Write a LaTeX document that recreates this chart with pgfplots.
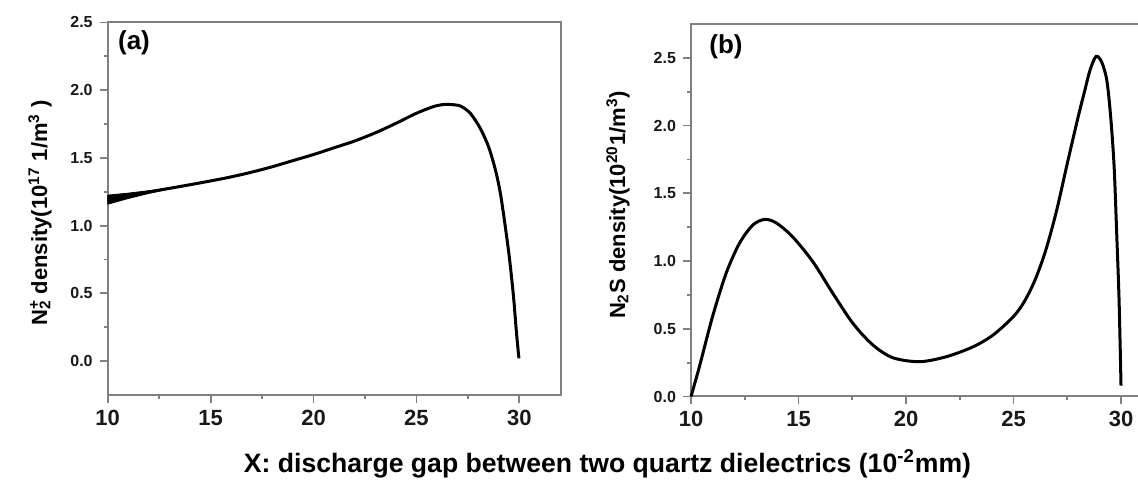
\documentclass[border=0pt]{standalone}
\usepackage{fontspec}
\setmainfont{Liberation Sans}
\usepackage{pgfplots}
\pgfplotsset{compat=1.18}
\definecolor{axgray}{HTML}{808080}
\pgfplotsset{
  myax/.style={
    scale only axis,
    anchor=south west,
    axis line style={axgray, line width=1pt},
    tick style={axgray, line width=0.9pt},
    major tick length=4pt, minor tick length=2pt,
    tick align=outside,
    tick pos=left,
    minor x tick num=1, minor y tick num=1,
    xmin=10, xmax=32,
    xtick={10,15,20,25,30},
    /pgf/number format/assume math mode=true,
    x tick label style={font=\bfseries\fontsize{11}{12}\selectfont, text=black!90},
    y tick label style={font=\bfseries\fontsize{8}{9}\selectfont, text=black!90,
      /pgf/number format/fixed, /pgf/number format/fixed zerofill, /pgf/number format/precision=1},
    clip=false,
  }
}
\begin{document}
\begin{tikzpicture}
\useasboundingbox (0,0) rectangle (569pt,240pt);
\clip (0,0) rectangle (569pt,240pt);
% panel (a)
\begin{axis}[myax, at={(53.85pt,42.55pt)}, width=226.4pt, height=186.2pt,
  ymin=-0.25, ymax=2.5, ytick={0,0.5,1,1.5,2,2.5}]
\addplot[fill=black, draw=black, line width=0.4pt] coordinates {
(10,1.225) (11,1.240) (12,1.258) (13,1.280) (14,1.306)
(13,1.272) (12,1.238) (11,1.200) (10,1.158)
} -- cycle;
\addplot[black, line width=1.5pt, smooth, tension=0.5] coordinates {
(10,1.195) (11,1.222) (12,1.248) (13,1.275) (14,1.302) (15,1.33) (16,1.36)
(17,1.395) (18,1.435) (19,1.48) (20,1.525) (21,1.575) (22,1.625) (23,1.685)
(24,1.755) (24.96,1.827) (25.77,1.876) (26.2,1.892) (26.58,1.895) (27.14,1.883)
(27.63,1.827) (28.11,1.716) (28.51,1.58) (28.84,1.41) (29.08,1.237) (29.32,0.99)
(29.53,0.745) (29.72,0.47) (29.86,0.21) (29.98,0.02)
};
\end{axis}
% panel (b)
\begin{axis}[myax, at={(345.5pt,41.75pt)}, width=236.5pt, height=186.25pt,
  ymin=0, ymax=2.75, ytick={0,0.5,1,1.5,2,2.5}]
\addplot[black, line width=1.5pt, smooth, tension=0.5] coordinates {
(10,0) (10.39,0.22) (11.0,0.589) (11.63,0.908) (12.25,1.13) (12.87,1.265)
(13.42,1.307) (13.96,1.282) (14.73,1.178) (15.67,0.994) (16.6,0.761)
(17.53,0.54) (18.46,0.38) (19.39,0.286) (20.64,0.257) (21.88,0.294)
(23.12,0.367) (24.05,0.454) (24.99,0.589) (25.5,0.70) (26.0,0.86)
(26.5,1.08) (27.0,1.37) (27.5,1.72) (28.0,2.06) (28.3,2.25)
(28.56,2.41) (28.84,2.511) (29.1,2.469) (29.34,2.334)
(29.52,2.063) (29.68,1.695) (29.8,1.2) (29.91,0.71) (30.0,0.08)
};
\end{axis}
% texts
\node[font=\bfseries\fontsize{13}{14}\selectfont] at (67pt,218.5pt) {(a)};
\node[font=\bfseries\fontsize{13}{14}\selectfont] at (363pt,216.5pt) {(b)};
\node[font=\bfseries\fontsize{11}{13}\selectfont, rotate=90] at (20pt,133.5pt)
  {N\rlap{\textsuperscript{+}}\textsubscript{2} density(10\textsuperscript{17} 1/m\textsuperscript{3} )};
\node[font=\bfseries\fontsize{11}{13}\selectfont, rotate=90] at (309pt,137.5pt)
  {N\textsubscript{2}S density(10\textsuperscript{20}1/m\textsuperscript{3})};
\node[font=\bfseries\fontsize{13.3}{15}\selectfont, anchor=base] at (303.75pt,3.5pt)
  {X: discharge gap between two quartz dielectrics (10\textsuperscript{-2}mm)};
\end{tikzpicture}
\end{document}
